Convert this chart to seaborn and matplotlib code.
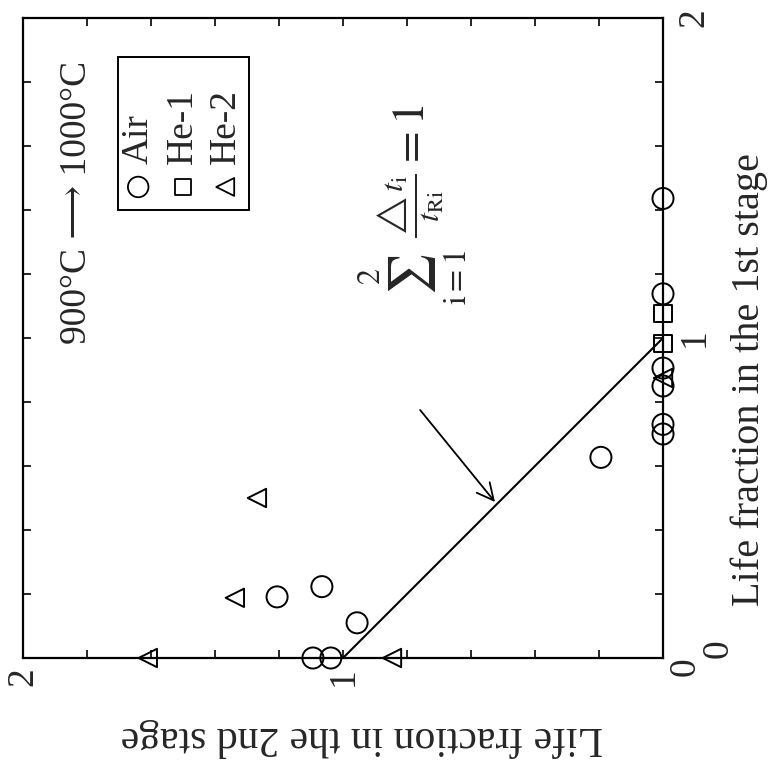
import numpy as np
import pandas as pd
import matplotlib
matplotlib.use("Agg")
import matplotlib.pyplot as plt
from matplotlib.patches import Rectangle
from matplotlib.ticker import MultipleLocator, FixedLocator
from matplotlib.transforms import ScaledTranslation
import seaborn as sns

# Life fractions consumed in the 1st (900°C) and 2nd (1000°C) stage
air_first = [1.436, 1.138, 0.906, 0.85, 0.73, 0.70, 0.627, 0.223, 0.191, 0.11, 0.0, 0.0]
air_second = [0.0, 0.0, 0.0, 0.0, 0.0, 0.0, 0.194, 1.066, 1.206, 0.956, 1.094, 1.038]
he1_first = [1.078, 0.984]
he1_second = [0.0, 0.0]
he2_first = [0.50, 0.188, 0.0, 0.0, 0.875]
he2_second = [1.269, 1.338, 1.61, 0.847, 0.0]

# Linear damage rule: sum of life fractions = 1
rule_first = [0.0, 1.0]
rule_second = [1.0, 0.0]

tick_values = [0, 1, 2]
tick_labels = ["0", "1", "2"]
series_names = ["Air", "He-1", "He-2"]
series_markers = ["o", "s", "<"]

sns.set_style("white")
plt.rcParams["font.family"] = ["Liberation Serif", "DejaVu Serif", "DejaVu Sans"]
plt.rcParams["mathtext.fontset"] = "stix"

FS = 27

fig = plt.figure(figsize=(7.68, 7.67), dpi=100)
ax = fig.add_axes([23 / 768, 1 - 658 / 767, 640 / 768, 640 / 767])

# The page is laid out turned a quarter turn: the 2nd-stage fraction runs
# right-to-left along the bottom, the 1st-stage fraction upward.
sns.lineplot(x=rule_second, y=rule_first, color="black", linewidth=1.5,
             sort=False, ax=ax)

marker_sizes = {"o": 230, "s": 150, "<": 175}
for xs, ys, mk in [(air_second, air_first, "o"),
                   (he1_second, he1_first, "s"),
                   (he2_second, he2_first, "<")]:
    sns.scatterplot(x=xs, y=ys, marker=mk, s=marker_sizes[mk], color="black",
                    facecolor="none", edgecolor="black", linewidth=1.4,
                    ax=ax, zorder=3, clip_on=False)

ax.set_xlim(2, 0)
ax.set_ylim(0, 2)

for side in ax.spines.values():
    side.set_linewidth(1.6)
    side.set_color("black")

ax.xaxis.set_major_locator(FixedLocator(tick_values))
ax.yaxis.set_major_locator(FixedLocator(tick_values))
ax.xaxis.set_minor_locator(MultipleLocator(0.2))
ax.yaxis.set_minor_locator(MultipleLocator(0.2))
ax.set_xticklabels(tick_labels)
ax.set_yticklabels(tick_labels)
ax.tick_params(which="both", direction="in", length=6, width=1.4,
               top=True, bottom=True, left=True, right=True,
               labelleft=False, labelright=True, labelsize=FS)
ax.tick_params(axis="x", pad=7)
ax.tick_params(axis="y", pad=10)
for lab in ax.get_xticklabels():
    lab.set_rotation(90)
    lab.set_va("top")
    lab.set_ha("center")
for lab in ax.get_yticklabels():
    lab.set_rotation(90)
    lab.set_va("center")
    lab.set_ha("left")

# Nudge the two corner zeros apart
xlabs = ax.get_xticklabels()
xlabs[0].set_transform(xlabs[0].get_transform()
                       + ScaledTranslation(22 / 100, 10 / 100, fig.dpi_scale_trans))
ylabs = ax.get_yticklabels()
ylabs[0].set_transform(ylabs[0].get_transform()
                       + ScaledTranslation(24 / 100, 9 / 100, fig.dpi_scale_trans))

ax.set_xlabel("")
ax.set_ylabel("")
fig.text(362 / 768, 1 - 738 / 767, "Life fraction in the 2nd stage",
         rotation=180, ha="center", va="center", fontsize=FS + 3)
fig.text(749 / 768, 1 - 380 / 767, "Life fraction in the 1st stage",
         rotation=90, ha="center", va="center", fontsize=FS + 2)

# Condition label
ax.text(0.084, 0.712, "900°C ⟶ 1000°C", transform=ax.transAxes,
        rotation=90, ha="center", va="center", fontsize=FS)

# Hand-built legend, turned with the rest of the page
ax.add_patch(Rectangle((0.148, 0.70), 0.205, 0.239, transform=ax.transAxes,
                       fill=False, edgecolor="black", linewidth=1.4, zorder=4))
leg_x = [0.180, 0.250, 0.316]
for lx, name, mk in zip(leg_x, series_names, series_markers):
    ax.scatter([lx], [0.736], marker=mk, s=marker_sizes[mk] * 0.95,
               facecolor="none", edgecolor="black", linewidth=1.3,
               transform=ax.transAxes, zorder=4)
    ax.text(lx, 0.772, name, transform=ax.transAxes, rotation=90,
            rotation_mode="anchor", ha="left", va="center", fontsize=FS)

# Rule annotation with its pointer
ax.text(0.781, 1.416,
        r"$\sum_{\mathrm{i=1}}^{2}\ \frac{\triangle t_{\mathrm{i}}}{t_{\mathrm{Ri}}}=1$",
        rotation=90, ha="center", va="center", fontsize=FS + 6)
ax.annotate("", xy=(0.525, 0.4875), xytext=(0.759, 0.775),
            arrowprops=dict(arrowstyle="->", color="black", lw=1.3,
                            mutation_scale=30, shrinkA=0, shrinkB=0))

fig.savefig("out.png", dpi=100, facecolor="white")
